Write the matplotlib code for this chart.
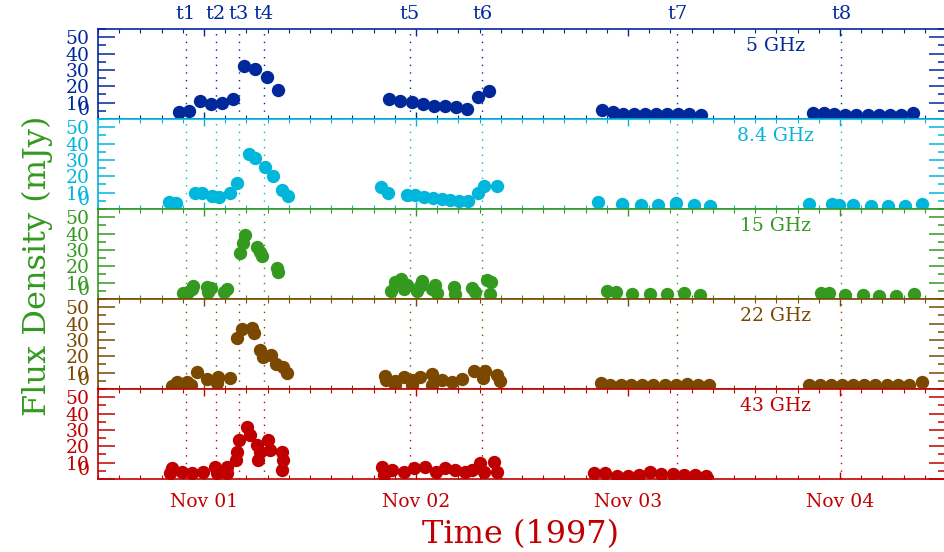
import matplotlib.pyplot as plt
from matplotlib.ticker import MultipleLocator

plt.rcParams['font.family'] = ['DejaVu Serif']

# Observation times as day of November 1997 (1.0 = Nov 01 00:00 UT), flux in mJy
t_5 = [0.883, 0.930, 0.982, 1.032, 1.087, 1.139, 1.191, 1.241, 1.297, 1.351,
       1.874, 1.926, 1.980, 2.032, 2.083, 2.135, 2.187, 2.239, 2.293, 2.345,
       2.879, 2.929, 2.978, 3.028, 3.080, 3.132, 3.186, 3.238, 3.290, 3.343,
       3.873, 3.925, 3.972, 4.025, 4.076, 4.130, 4.182, 4.234, 4.287, 4.343]
flux_5 = [4.1, 4.7, 11.2, 9.1, 9.8, 12.2, 32.5, 30.3, 25.4, 17.5,
          12.2, 11.0, 10.2, 9.1, 8.1, 7.7, 7.5, 6.1, 13.6, 17.3,
          5.5, 4.1, 3.0, 2.8, 2.8, 2.8, 2.8, 3.0, 2.8, 2.6,
          3.5, 3.5, 3.0, 2.6, 2.4, 2.4, 2.4, 2.4, 2.2, 3.5]

t_8 = [0.835, 0.868, 0.958, 0.991, 1.038, 1.071, 1.123, 1.155, 1.210, 1.241,
       1.288, 1.325, 1.368, 1.394,
       1.836, 1.866, 1.958, 1.997, 2.039, 2.082, 2.123, 2.162, 2.205, 2.243,
       2.293, 2.323, 2.383,
       2.857, 2.970, 3.060, 3.143, 3.226, 3.309, 3.387,
       3.855, 3.962, 3.995, 4.062, 4.146, 4.228, 4.308, 4.385]
flux_8 = [4.1, 3.7, 9.6, 9.8, 7.9, 7.5, 9.6, 15.7, 33.5, 31.0,
          25.4, 20.1, 11.6, 7.9,
          13.2, 9.9, 8.5, 8.5, 7.1, 6.5, 6.1, 5.7, 5.1, 4.9,
          9.9, 14.0, 14.0,
          4.5, 3.0, 2.3, 2.6, 3.5, 2.6, 1.7,
          3.0, 2.8, 2.6, 2.4, 1.8, 1.8, 1.8, 3.0]

t_15 = [0.903, 0.925, 0.943, 0.950, 1.013, 1.021, 1.034, 1.092, 1.108, 1.171,
        1.183, 1.194, 1.252, 1.263, 1.273, 1.344, 1.350,
        1.884, 1.903, 1.931, 1.945, 1.959, 2.006, 2.021, 2.030, 2.077, 2.091,
        2.101, 2.181, 2.186, 2.265, 2.276, 2.337, 2.347, 2.356,
        2.902, 2.942, 3.020, 3.104, 3.186, 3.264, 3.340,
        3.910, 3.949, 4.025, 4.107, 4.185, 4.264, 4.348]
flux_15 = [3.5, 4.5, 5.9, 7.9, 7.1, 4.5, 6.5, 4.5, 5.9, 28.2,
           34.3, 39.0, 31.9, 29.0, 26.2, 18.7, 16.6,
           4.9, 10.4, 12.2, 6.0, 8.5, 4.9, 7.9, 11.0, 6.0, 8.5,
           3.7, 7.3, 3.0, 6.5, 4.3, 11.4, 3.0, 10.4,
           4.6, 4.2, 3.0, 3.0, 3.2, 3.7, 2.4,
           3.4, 3.7, 2.2, 2.4, 2.0, 2.0, 2.8]

t_22 = [0.849, 0.873, 0.897, 0.920, 0.939, 0.966, 1.016, 1.061, 1.068, 1.123,
        1.156, 1.180, 1.226, 1.237, 1.265, 1.279, 1.317, 1.341, 1.374, 1.393,
        1.855, 1.858, 1.903, 1.903, 1.942, 1.981, 1.981, 2.021, 2.076, 2.076,
        2.123, 2.170, 2.218, 2.272, 2.315, 2.327, 2.383, 2.398,
        2.871, 2.915, 2.965, 3.016, 3.068, 3.120, 3.173, 3.225, 3.277, 3.330, 3.382,
        3.855, 3.906, 3.957, 4.009, 4.062, 4.114, 4.166, 4.220, 4.272, 4.324, 4.385]
flux_22 = [1.8, 4.3, 2.4, 4.0, 2.4, 10.6, 5.9, 3.5, 7.5, 6.5,
           31.3, 36.4, 37.4, 34.1, 24.0, 19.5, 20.7, 15.2, 13.6, 9.8,
           8.1, 5.7, 4.6, 2.6, 7.3, 5.7, 2.6, 7.3, 9.3, 2.6,
           5.7, 4.0, 6.1, 10.7, 6.7, 11.3, 8.7, 4.6,
           3.5, 2.6, 2.6, 2.6, 2.6, 2.6, 2.4, 2.6, 2.8, 2.4, 2.2,
           2.4, 2.6, 2.6, 2.6, 2.6, 2.4, 2.4, 2.4, 2.2, 2.2, 4.5]

t_43 = [0.840, 0.848, 0.895, 0.942, 0.997, 1.053, 1.061, 1.108, 1.108, 1.152,
        1.155, 1.163, 1.205, 1.215, 1.250, 1.257, 1.262, 1.304, 1.312, 1.368,
        1.375, 1.368,
        1.840, 1.847, 1.887, 1.942, 1.989, 2.044, 2.092, 2.139, 2.186, 2.233,
        2.265, 2.304, 2.320, 2.367, 2.380,
        2.838, 2.892, 2.946, 2.998, 3.050, 3.105, 3.158, 3.213, 3.265, 3.316, 3.368]
flux_43 = [3.5, 6.5, 4.5, 3.5, 4.5, 7.5, 3.5, 7.1, 3.5, 11.6,
           16.7, 23.8, 31.9, 26.8, 20.7, 11.6, 16.7, 23.8, 17.7, 16.7,
           11.6, 5.5,
           7.5, 2.4, 5.5, 4.5, 6.5, 7.5, 4.5, 6.5, 5.5, 4.5,
           5.5, 9.6, 4.5, 10.6, 4.5,
           3.5, 3.5, 2.0, 2.0, 2.6, 4.1, 3.3, 3.3, 2.6, 2.6, 2.0]

band_names = ['5 GHz', '8.4 GHz', '15 GHz', '22 GHz', '43 GHz']
band_times = [t_5, t_8, t_15, t_22, t_43]
band_flux = [flux_5, flux_8, flux_15, flux_22, flux_43]
band_colors = ['#00289a', '#00b6da', '#33991f', '#7a4800', '#c00000']

# epochs marked on every panel
event_times = [0.914, 1.056, 1.164, 1.283, 1.970, 2.313, 3.232, 4.006]
event_names = ['t1', 't2', 't3', 't4', 't5', 't6', 't7', 't8']

day_ticks = [1, 2, 3, 4]
day_labels = ['Nov 01', 'Nov 02', 'Nov 03', 'Nov 04']

# ---- layout (pixels of a 945x552 canvas) ----
W, H = 945, 552
left_px, right_px = 98, 946
top_px, panel_px = 29, 90

fig = plt.figure(figsize=(W / 100, H / 100), dpi=100)

axes = []
for i, (name, tt, ff, c) in enumerate(zip(band_names, band_times, band_flux, band_colors)):
    bottom = 1 - (top_px + panel_px * (i + 1)) / H
    ax = fig.add_axes([left_px / W, bottom, (right_px - left_px) / W, panel_px / H])
    axes.append(ax)

    for te in event_times:
        ax.axvline(te, color=c, ls=(0, (1, 4.5)), lw=1.0, zorder=1)

    ax.plot(tt, ff, 'o', color=c, ms=9.6, mew=0, zorder=3)

    ax.set_xlim(0.5, 4.5)
    ax.set_ylim(0, 55)

    ax.set_yticks(range(0, 51, 10))
    ax.set_yticks(range(5, 56, 10), minor=True)
    ax.set_xticks(day_ticks)
    ax.xaxis.set_minor_locator(MultipleLocator(0.1))

    ax.tick_params(axis='y', which='major', direction='in', length=12, width=1.1,
                   left=True, right=True, color=c, labelcolor=c, labelsize=13.5, pad=6)
    ax.tick_params(axis='y', which='minor', direction='in', length=6, width=1.1,
                   left=True, right=True, color=c)
    ax.tick_params(axis='x', which='major', direction='in', length=5, width=1,
                   top=True, bottom=True, color=c)
    ax.tick_params(axis='x', which='minor', direction='in', length=3, width=0.8,
                   top=True, bottom=True, color=c)

    # the zero label sits just above the bottom edge, as in the IDL plots
    for lbl in ax.get_yticklabels():
        if lbl.get_text() == '0':
            lbl.set_va('bottom')

    for sp in ax.spines.values():
        sp.set_color(c)
        sp.set_linewidth(1.2)

    if i < len(band_names) - 1:
        ax.tick_params(axis='x', labelbottom=False)
    else:
        ax.set_xticklabels(day_labels)
        ax.tick_params(axis='x', labelcolor=c, labelsize=13.5, pad=10)

    ax.text(0.799, 0.81, name, transform=ax.transAxes, color=c,
            fontsize=13.5, ha='center', va='center')

# epoch labels above the top panel
for te, nm in zip(event_times, event_names):
    axes[0].text(te, 1.167, nm, transform=axes[0].get_xaxis_transform(),
                 color=band_colors[0], fontsize=14, ha='center', va='center')

fig.text(37 / W, 1 - 266 / H, 'Flux Density (mJy)', rotation=90,
         color='#33991f', fontsize=23, ha='center', va='center')
fig.text(521 / W, 1 - 535 / H, 'Time (1997)', color='#c00000',
         fontsize=23, ha='center', va='center')

plt.savefig('out.png', dpi=100)
